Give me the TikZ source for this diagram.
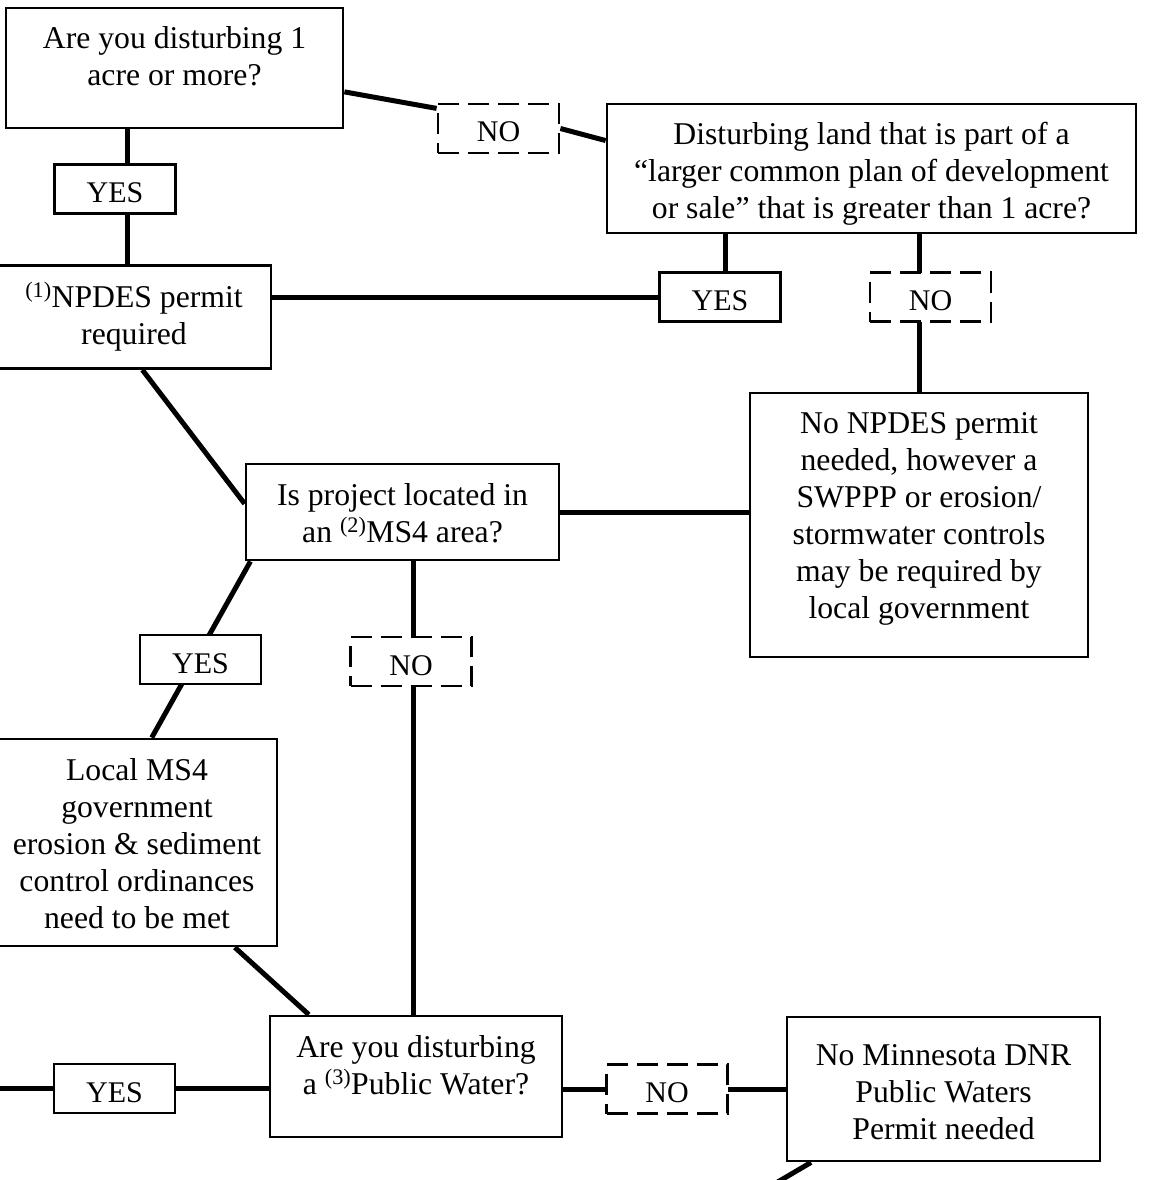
\documentclass[tikz,border=0pt]{standalone}
\usepackage{fontspec}
\setmainfont{Liberation Serif}
\usetikzlibrary{backgrounds}

\begin{document}
\begin{tikzpicture}[x=1pt,y=-1pt,
  box/.style={draw,line width=2.8pt,fill=white,align=center,inner sep=0pt,text depth=0pt,font=\fontsize{31.7}{37}\selectfont},
  yesbox/.style={box,minimum width=121pt,minimum height=49pt,text height=27pt,font=\fontsize{30}{34}\selectfont},
  nobox/.style={yesbox,dash pattern=on 21pt off 9pt},
  link/.style={line width=5pt}]
\useasboundingbox (0,0) rectangle (1149,1180);
\node[box,minimum width=337pt,minimum height=120pt,text height=36pt] (q1) at (174.5,68) {Are you disturbing 1\\acre or more?};
\node[yesbox] (yes1) at (115,189) {YES};
\node[box,minimum width=274pt,minimum height=103pt,text height=54pt] (npdes) at (134,317) {\textsuperscript{(1)}NPDES permit\\required};
\node[nobox] (no1) at (498.5,128.5) {NO};
\node[box,minimum width=529pt,minimum height=129pt,text height=99pt] (q2) at (871.5,168.5) {Disturbing land that is part of a\\“larger common plan of development\\or sale” that is greater than 1 acre?};
\node[yesbox] (yes2) at (720,297) {YES};
\node[nobox] (no2) at (930.5,297) {NO};
\node[box,minimum width=338pt,minimum height=264pt,text height=186pt] (nonpdes) at (919,525) {No NPDES permit\\needed, however a\\SWPPP or erosion/\\stormwater controls\\may be required by\\local government};
\node[box,minimum width=313pt,minimum height=96pt,text height=60pt] (ms4) at (402.5,512) {Is project located in\\an \textsuperscript{(2)}MS4 area?};
\node[yesbox] (yes3) at (200.5,659.5) {YES};
\node[nobox] (no3) at (411,661.5) {NO};
\node[box,minimum width=280pt,minimum height=207pt,text height=171pt] (local) at (137,842.5) {Local MS4\\government\\erosion \& sediment\\control ordinances\\need to be met};
\node[box,minimum width=292pt,minimum height=121pt,text height=35pt] (q4) at (416,1076.5) {Are you disturbing\\a \textsuperscript{(3)}Public Water?};
\node[yesbox] (yes4) at (114.5,1088.5) {YES};
\node[nobox] (no4) at (667,1089) {NO};
\node[box,minimum width=313pt,minimum height=144pt,text height=100pt] (q5) at (943.5,1089) {No Minnesota DNR\\Public Waters\\Permit needed};
\coordinate (lftend) at (-5,1088); \coordinate (btmend) at (747,1200);
\begin{scope}[on background layer]
\draw[link] ([xshift=-47.5pt]q1.south) -- ([xshift=-47.5pt]q1.south |- npdes.north);
\draw[link] (q1.352) -- (no1.162); \draw[link] (no1.east) -- (q2.174);
\draw[link] ([xshift=5pt]yes2.north) -- ([xshift=5pt]yes2.north |- q2.south);
\draw[link] (nonpdes.north |- q2.south) -- (nonpdes.north);
\draw[link] (yes2.west) -- (yes2.west -| npdes.east);
\draw[link] (npdes.279) -- (ms4.177); \draw[link] (ms4.east) -- (ms4.east -| nonpdes.west);
\draw[link] (ms4.198) -- (local.82);
\draw[link] ([xshift=2pt]no3.north |- ms4.south) -- ([xshift=2pt]no3.south |- q4.north);
\draw[link] (local.313) -- (q4.150);
\draw[link] (lftend) -- (lftend -| q4.west); \draw[link] (q5.west) -- (q5.west -| q4.east);
\draw[link] (q5.209) -- (btmend);
\end{scope}
\end{tikzpicture}
\end{document}
